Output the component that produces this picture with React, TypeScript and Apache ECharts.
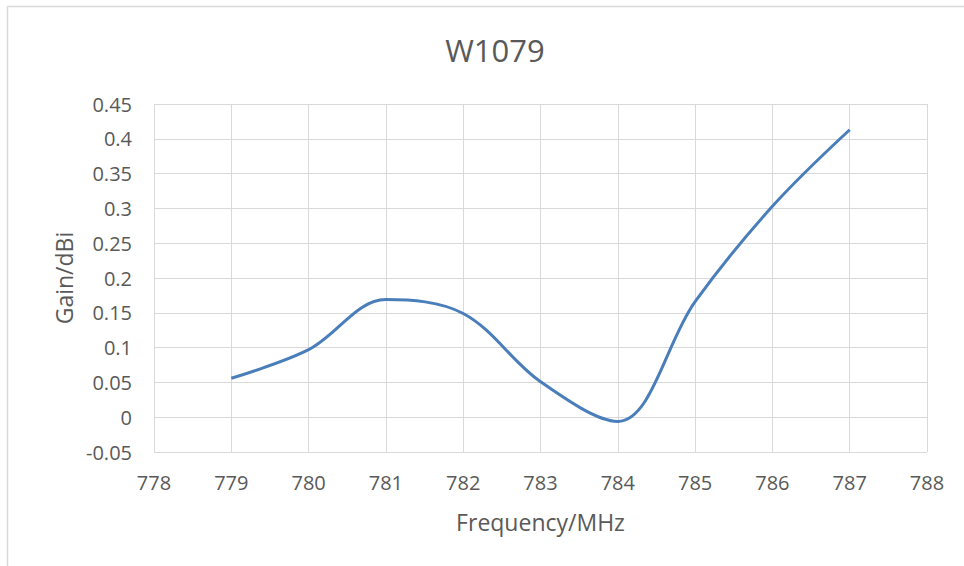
import React, { useEffect, useRef } from "react";
import * as echarts from "echarts";

const frequencies = [779, 780, 781, 782, 783, 784, 785, 786, 787];
const gains = [0.056, 0.097, 0.169, 0.149, 0.051, -0.006, 0.166, 0.303, 0.413];
const titleText = "W1079";
const xName = "Frequency/MHz";
const yName = "Gain/dBi";

export default function App() {
  const ref = useRef<HTMLDivElement>(null);
  useEffect(() => {
    if (!ref.current) return;
    const chart = echarts.init(ref.current, undefined, { renderer: "svg" });
    const font = "'Open Sans', 'Noto Sans', sans-serif";
    chart.setOption({
      animation: false,
      backgroundColor: "#ffffff",
      title: {
        text: titleText,
        left: 490,
        top: 29,
        textAlign: "center",
        textStyle: { fontFamily: font, fontSize: 31, fontWeight: "normal", color: "#595959" },
      },
      grid: { left: 154, right: 37, top: 104, bottom: 114, containLabel: false },
      xAxis: {
        type: "value",
        min: 778,
        max: 788,
        interval: 1,
        name: xName,
        nameLocation: "middle",
        nameGap: 58,
        nameTextStyle: { fontFamily: font, fontSize: 23, color: "#595959" },
        axisLine: { show: false },
        axisTick: { show: false },
        axisLabel: { fontFamily: font, fontSize: 20, color: "#595959", margin: 20 },
        splitLine: { show: true, lineStyle: { color: "#d9d9d9", width: 1 } },
      },
      yAxis: {
        type: "value",
        min: -0.05,
        max: 0.45,
        interval: 0.05,
        name: yName,
        nameLocation: "middle",
        nameGap: 78,
        nameTextStyle: { fontFamily: font, fontSize: 23, color: "#595959" },
        axisLine: { show: false },
        axisTick: { show: false },
        axisLabel: {
          fontFamily: font,
          fontSize: 20,
          color: "#595959",
          margin: 22,
          formatter: (v: number) => String(Math.round(v * 100) / 100),
        },
        splitLine: { show: true, lineStyle: { color: "#d9d9d9", width: 1 } },
      },
      graphic: [
        { type: "line", shape: { x1: 7, y1: 6.5, x2: 964, y2: 6.5 }, style: { stroke: "#d9d9d9", lineWidth: 1.5 } },
        { type: "line", shape: { x1: 7.5, y1: 6, x2: 7.5, y2: 566 }, style: { stroke: "#d9d9d9", lineWidth: 1.5 } },
        { type: "line", shape: { x1: 154.5, y1: 104, x2: 154.5, y2: 452 }, style: { stroke: "#d9d9d9", lineWidth: 1 } },
      ],
      series: [
        {
          type: "line",
          data: frequencies.map((f, i) => [f, gains[i]]),
          smooth: 0.35,
          showSymbol: false,
          lineStyle: { color: "#4a7ebb", width: 3 },
        },
      ],
    });
    return () => chart.dispose();
  }, []);
  return <div ref={ref} style={{ position: "absolute", left: 0, top: 0, width: 964, height: 566 }} />;
}
